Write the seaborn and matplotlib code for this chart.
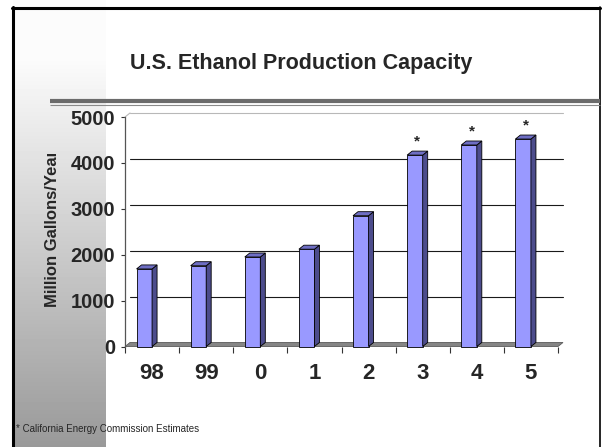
import numpy as np
import matplotlib
matplotlib.use("Agg")
import matplotlib.pyplot as plt
from matplotlib.patches import Polygon
from matplotlib.transforms import Bbox
import seaborn as sns

# data
years = ["98", "99", "0", "1", "2", "3", "4", "5"]
capacity = [1690, 1760, 1950, 2120, 2850, 4170, 4390, 4520]
estimated = [False, False, False, False, False, True, True, True]
y_ticks = [0, 1000, 2000, 3000, 4000, 5000]

W, H = 602, 447
FRONT = "#9999FF"
SIDE = "#4C4C8C"
TOP = "#6E6EC4"

sns.set_style("white")
plt.rcParams["font.family"] = ["Liberation Sans", "DejaVu Sans"]

fig = plt.figure(figsize=(W / 100, H / 100), dpi=100)

# slide background in pixel coords
bg = fig.add_axes([0, 0, 1, 1], zorder=0)
bg.set_xlim(0, W)
bg.set_ylim(H, 0)
bg.axis("off")
grad = np.concatenate([np.full(60, 0.985), np.linspace(0.985, 0.6, H - 60)])
bg.imshow(grad[:, None], cmap="gray", vmin=0, vmax=1, aspect="auto",
          extent=[13, 106, H, 0], zorder=1)
# frame
bg.plot([12, 600], [7.5, 7.5], color="black", lw=2.2, zorder=5)
bg.plot([13, 13], [7, H], color="black", lw=2.2, zorder=5)
bg.plot([600, 600], [7, H], color="black", lw=1.2, zorder=5)
# double rule under title
bg.plot([50, 600], [100.5, 100.5], color="#6b6b6b", lw=3.0, zorder=5, solid_capstyle="butt")
bg.plot([50, 600], [105, 105], color="#8a8a8a", lw=0.8, zorder=5, solid_capstyle="butt")

fig.text(301 / W, 1 - 64 / H, "U.S. Ethanol Production Capacity",
         ha="center", va="center", fontsize=15.5, fontweight="bold")
fig.text(16 / W, 1 - 429 / H, "* California Energy Commission Estimates",
         ha="left", va="center", fontsize=7)

# y label, cut off at the top as on the slide (clip box in display pixels)
ylab = bg.text(53, 307, "Million Gallons/Year", rotation=90,
               ha="center", va="bottom", fontsize=12, fontweight="bold",
               zorder=6)
ylab.set_clip_on(True)
ylab.set_clip_box(Bbox([[0, 0], [W, H - 153.5]]))

# chart axes: front plane, categories -0.5..7.5, values 0..5000
ax = fig.add_axes([125 / W, 1 - 346.5 / H, 433 / W, 229.5 / H], zorder=2)
ax.patch.set_alpha(0)

sns.barplot(x=years, y=capacity, order=years, color=FRONT, saturation=1,
            width=0.287, edgecolor="black", linewidth=0.6, ax=ax, zorder=4)

ax.set_xlim(-0.5, 7.5)
ax.set_ylim(0, 5000)

dx = 5 / 54.1          # depth in category units
dy = 4 / 45.9 * 1000   # depth in value units

# back wall gridlines
for v in y_ticks[1:]:
    col = "#b8b8b8" if v == 5000 else "#1a1a1a"
    ax.plot([-0.5 + dx, 7.5 + dx], [v + dy, v + dy], color=col, lw=0.8,
            clip_on=False, zorder=1)
# left wall top edge
ax.plot([-0.5, -0.5 + dx], [5000, 5000 + dy], color="#b8b8b8", lw=0.8,
        clip_on=False, zorder=1)
# floor
ax.add_patch(Polygon([(-0.5, 0), (7.5, 0), (7.5 + dx, dy), (-0.5 + dx, dy)],
                     closed=True, facecolor="#858585", edgecolor="#5a5a5a",
                     lw=0.6, clip_on=False, zorder=2))

# shift front faces so right edge sits on category centre, add side and top
for i, p in enumerate(ax.patches[:len(years)]):
    w = p.get_width()
    p.set_x(i - w)
    p.set_clip_on(False)
    x0, x1 = i - w, i
    h = capacity[i]
    ax.add_patch(Polygon([(x1, 0), (x1 + dx, dy), (x1 + dx, h + dy), (x1, h)],
                         closed=True, facecolor=SIDE, edgecolor="black",
                         lw=0.6, clip_on=False, zorder=4))
    ax.add_patch(Polygon([(x0, h), (x1, h), (x1 + dx, h + dy), (x0 + dx, h + dy)],
                         closed=True, facecolor=TOP, edgecolor="black",
                         lw=0.6, clip_on=False, zorder=4))
    if estimated[i]:
        ax.text(i - w / 2 + dx / 2, h + dy + 60, "*", ha="center", va="bottom",
                fontsize=11, fontweight="bold", clip_on=False)

for s in ["top", "right", "bottom"]:
    ax.spines[s].set_visible(False)
ax.spines["left"].set_color("#555555")
ax.spines["left"].set_linewidth(0.9)

ax.set_yticks(y_ticks)
ax.set_yticklabels([str(v) for v in y_ticks], fontsize=14.5, fontweight="bold")
ax.tick_params(axis="y", left=True, length=3, width=0.8, color="#333333", pad=4)

ax.set_xticks(range(len(years)))
ax.set_xticklabels(years, fontsize=16, fontweight="bold")
ax.set_xticks(np.arange(-0.5, 8, 1.0), minor=True)
ax.tick_params(axis="x", which="major", bottom=False, length=0, pad=12)
ax.tick_params(axis="x", which="minor", bottom=True, length=4, width=0.8,
               color="#333333")
ax.set_xlabel("")
ax.set_ylabel("")
ax.grid(False)

fig.savefig("out.png", dpi=100)
